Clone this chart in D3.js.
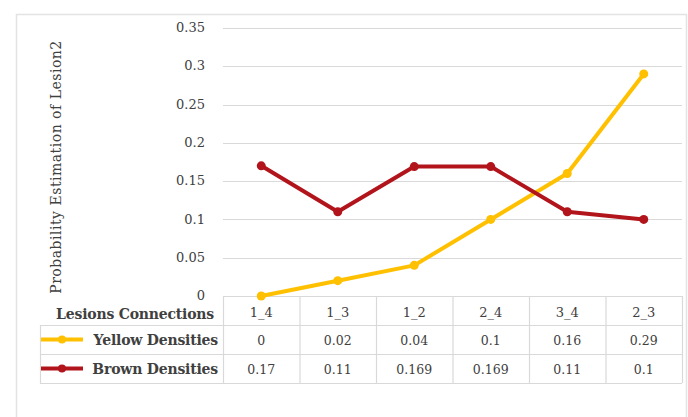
<!DOCTYPE html>
<html>
<head>
<meta charset="utf-8">
<script src="https://cdn.jsdelivr.net/npm/d3@7"></script>
<style>
  html, body { margin: 0; padding: 0; background: #fff; }
  svg { display: block; }
  text { font-family: "DejaVu Serif", "Liberation Serif", serif; fill: #404040; }
</style>
</head>
<body>
<svg id="chart" width="688" height="417"></svg>
<script>
// Lesion connection categories and density estimates
const categories = ["1_4", "1_3", "1_2", "2_4", "3_4", "2_3"];
const yellowValues = [0, 0.02, 0.04, 0.1, 0.16, 0.29];
const brownValues = [0.17, 0.11, 0.169, 0.169, 0.11, 0.1];
const yTicks = [0, 0.05, 0.1, 0.15, 0.2, 0.25, 0.3, 0.35];

const series = [
  { name: "Yellow Densities", values: yellowValues, color: "#FFC000" },
  { name: "Brown Densities", values: brownValues, color: "#B2141C" }
];

const svg = d3.select("#chart");

// outer frame
svg.append("rect")
  .attr("x", 16.5).attr("y", 14.5)
  .attr("width", 670).attr("height", 420)
  .attr("fill", "none").attr("stroke", "#e3e3e3").attr("stroke-width", 1.5);

const plotLeft = 223, plotRight = 682, plotTop = 28, plotBottom = 296;
const rowH = 29;
const tableLeft = 40;

const x = d3.scaleBand().domain(categories).range([plotLeft, plotRight]);
const y = d3.scaleLinear().domain([0, 0.35]).range([plotBottom, plotTop]);

// gridlines
svg.append("g").selectAll("line").data(yTicks.filter(d => d > 0)).join("line")
  .attr("x1", plotLeft).attr("x2", plotRight)
  .attr("y1", d => Math.round(y(d)) + 0.5).attr("y2", d => Math.round(y(d)) + 0.5)
  .attr("stroke", "#d9d9d9").attr("stroke-width", 1);

// y axis labels
const yAxis = d3.axisLeft(y).tickValues(yTicks).tickFormat(d => d3.format("~g")(d)).tickSize(0).tickPadding(18);
const yg = svg.append("g").attr("transform", `translate(${plotLeft},0)`).call(yAxis);
yg.select(".domain").remove();
yg.selectAll("text").attr("font-size", 13).attr("fill", "#404040")
  .attr("dy", "0.28em")
  .style("font-family", '"DejaVu Serif", serif');

// y axis title
svg.append("text")
  .attr("transform", `translate(61,${(plotBottom + 38) / 2}) rotate(-90)`)
  .attr("text-anchor", "middle")
  .attr("font-size", 14)
  .attr("letter-spacing", 0.5)
  .text("Probability Estimation of Lesion2");

// data table grid
const grid = svg.append("g").attr("stroke", "#d9d9d9").attr("stroke-width", 1.2).attr("fill", "none");
grid.append("line").attr("x1", plotLeft).attr("x2", plotRight).attr("y1", plotBottom + 0.5).attr("y2", plotBottom + 0.5);
[1, 2, 3].forEach(i => {
  grid.append("line").attr("x1", tableLeft).attr("x2", plotRight)
    .attr("y1", plotBottom + i * rowH + 0.5).attr("y2", plotBottom + i * rowH + 0.5);
});
const vx = categories.map(c => x(c)).concat([plotRight]);
vx.forEach(v => {
  grid.append("line").attr("x1", v + 0.5).attr("x2", v + 0.5).attr("y1", plotBottom).attr("y2", plotBottom + 3 * rowH);
});
grid.append("line").attr("x1", tableLeft + 0.5).attr("x2", tableLeft + 0.5)
  .attr("y1", plotBottom + rowH).attr("y2", plotBottom + 3 * rowH);

// header row
svg.append("text").attr("x", 214).attr("y", plotBottom + rowH / 2 + 8)
  .attr("text-anchor", "end").attr("font-size", 14).attr("font-weight", "bold").attr("fill", "#3a3a3a")
  .attr("letter-spacing", -0.2)
  .text("Lesions Connections");
svg.append("g").selectAll("text").data(categories).join("text")
  .attr("x", d => x(d) + x.bandwidth() / 2)
  .attr("y", plotBottom + rowH / 2 + 6)
  .attr("text-anchor", "middle").attr("font-size", 13)
  .text(d => d);

// lines and markers
const line = d3.line().x((d, i) => x(categories[i]) + x.bandwidth() / 2).y(d => y(d));
series.forEach(s => {
  svg.append("path").datum(s.values)
    .attr("d", line).attr("fill", "none")
    .attr("stroke", s.color).attr("stroke-width", 4)
    .attr("stroke-linejoin", "round").attr("stroke-linecap", "round");
  svg.append("g").selectAll("circle").data(s.values).join("circle")
    .attr("cx", (d, i) => x(categories[i]) + x.bandwidth() / 2)
    .attr("cy", d => y(d)).attr("r", 4.5).attr("fill", s.color);
});

// series rows with legend keys
series.forEach((s, r) => {
  const cy = plotBottom + (r + 1) * rowH + rowH / 2;
  svg.append("line").attr("x1", 41).attr("x2", 83).attr("y1", cy).attr("y2", cy)
    .attr("stroke", s.color).attr("stroke-width", 4);
  svg.append("circle").attr("cx", 62).attr("cy", cy).attr("r", 4).attr("fill", s.color);
  svg.append("text").attr("x", 218).attr("y", cy + 5)
    .attr("text-anchor", "end").attr("font-size", 14).attr("font-weight", "bold").attr("fill", "#3a3a3a")
    .attr("letter-spacing", -0.2)
    .text(s.name);
  svg.append("g").selectAll("text").data(s.values).join("text")
    .attr("x", (d, i) => x(categories[i]) + x.bandwidth() / 2)
    .attr("y", cy + 5)
    .attr("text-anchor", "middle").attr("font-size", 12.5)
    .text(d => String(d));
});
</script>
</body>
</html>
